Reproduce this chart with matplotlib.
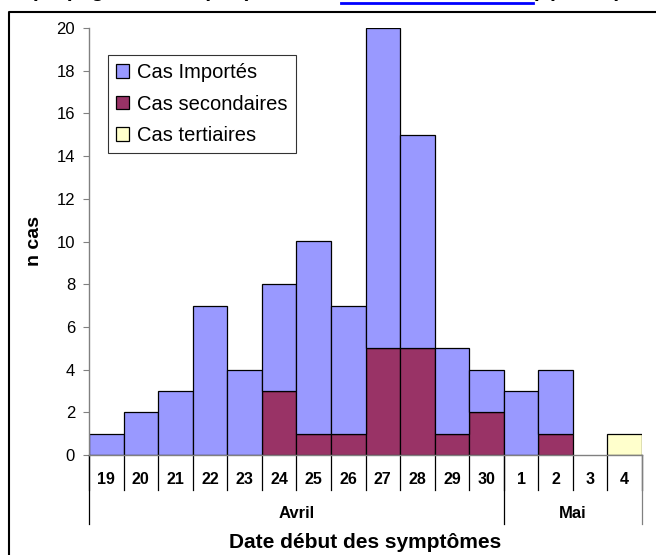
import numpy as np
import matplotlib.pyplot as plt
from matplotlib.lines import Line2D
from matplotlib.patches import Patch

plt.rcParams['font.family'] = ['Liberation Sans', 'DejaVu Sans']

days = ['19', '20', '21', '22', '23', '24', '25', '26', '27', '28', '29', '30',
        '1', '2', '3', '4']
months = ['Avril', 'Mai']
month_len = [12, 4]
secondaires = [0, 0, 0, 0, 0, 3, 1, 1, 5, 5, 1, 2, 0, 1, 0, 0]
importes = [1, 2, 3, 7, 4, 5, 9, 6, 15, 10, 4, 2, 3, 3, 0, 0]
tertiaires = [0, 0, 0, 0, 0, 0, 0, 0, 0, 0, 0, 0, 0, 0, 0, 1]
labels = ['Cas Importés', 'Cas secondaires', 'Cas tertiaires']
colors = ['#9999FF', '#993366', '#FFFFCC']

W, H = 656, 555
fig = plt.figure(figsize=(W / 100, H / 100), dpi=100)
ax_l, ax_r, ax_b, ax_t = 89, 642, 455, 28
ax = fig.add_axes([ax_l / W, 1 - ax_b / H, (ax_r - ax_l) / W, (ax_b - ax_t) / H])

x = np.arange(len(days))
sec = np.array(secondaires)
imp = np.array(importes)
ter = np.array(tertiaires)


def lw(v):
    return [0.9 if a > 0 else 0 for a in v]


ax.bar(x, sec, width=1.0, color=colors[1], edgecolor='black', linewidth=lw(sec))
ax.bar(x, imp, bottom=sec, width=1.0, color=colors[0], edgecolor='black', linewidth=lw(imp))
ax.bar(x, ter, bottom=sec + imp, width=1.0, color=colors[2], edgecolor='black', linewidth=lw(ter))

ax.set_xlim(-0.5, len(days) - 0.5)
ax.set_ylim(0, 20)
ax.set_yticks(range(0, 21, 2))
ax.tick_params(axis='y', labelsize=12, length=4, color='#808080', pad=6)
ax.set_xticks([])
for s in ['top', 'right']:
    ax.spines[s].set_visible(False)
for s in ['left', 'bottom']:
    ax.spines[s].set_color('#808080')
    ax.spines[s].set_linewidth(1)
ax.patch.set_visible(False)

ax.set_ylabel('n cas', fontsize=14, fontweight='bold')
ax.yaxis.set_label_coords(-(ax_l - 43) / (ax_r - ax_l), 0.5)

# axe des dates : jours + mois
ph = ax_b - ax_t
day_sep = -35 / ph
mon_sep = -69 / ph
trans = ax.get_xaxis_transform()
for i in range(len(days) + 1):
    ax.plot([i - 0.5, i - 0.5], [0, day_sep], color='black', lw=0.9,
            transform=trans, clip_on=False)
for i, d in enumerate(days):
    ax.text(i, -24 / ph, d, transform=trans, ha='center', va='center',
            fontsize=11.5, fontweight='bold')
start = 0
for m, n in zip(months, month_len):
    ax.plot([start - 0.5, start - 0.5], [0, mon_sep], color='black', lw=0.9,
            transform=trans, clip_on=False)
    ax.text(start + n / 2 - 0.5, -58 / ph, m, transform=trans, ha='center',
            va='center', fontsize=12, fontweight='bold')
    start += n
ax.plot([start - 0.5, start - 0.5], [0, mon_sep], color='#808080', lw=0.9,
        transform=trans, clip_on=False)

fig.text((ax_l + ax_r) / 2 / W, 1 - 542 / H, 'Date début des symptômes',
         ha='center', va='center', fontsize=15, fontweight='bold')

handles = [Patch(facecolor=c, edgecolor='black', linewidth=0.9) for c in colors]
leg = ax.legend(handles, labels,
                loc='upper left', bbox_to_anchor=((108 - ax_l) / (ax_r - ax_l), (ax_b - 55) / ph),
                borderaxespad=0, fontsize=14.5, frameon=True, fancybox=False,
                handlelength=0.65, handleheight=0.65, handletextpad=0.4,
                labelspacing=0.62, borderpad=0.4)
leg.get_frame().set_edgecolor('black')
leg.get_frame().set_linewidth(0.8)

# cadre extérieur
fig.add_artist(Line2D([9 / W, 9 / W, 1], [0, 1 - 12 / H, 1 - 12 / H],
                      color='black', lw=1.5, transform=fig.transFigure))

# titre coupé en haut
ty = 1 + 3 / H
fig.text(338 / W, ty, 'Cas importés et secondaires, propagé au Mexique (Source : ',
         ha='right', va='baseline', fontsize=15, fontweight='bold')
fig.text(437 / W, ty, 'www.invs.sante.fr', ha='center', va='baseline',
         fontsize=14, fontweight='bold', color='#0000FF')
fig.add_artist(Line2D([341 / W, 533 / W], [1 - 3 / H, 1 - 3 / H], color='#0000FF',
                      lw=2, transform=fig.transFigure))
fig.text(535 / W, ty, ') (n = 94)', ha='left', va='baseline',
         fontsize=15, fontweight='bold')

fig.savefig('out.png', dpi=100)
